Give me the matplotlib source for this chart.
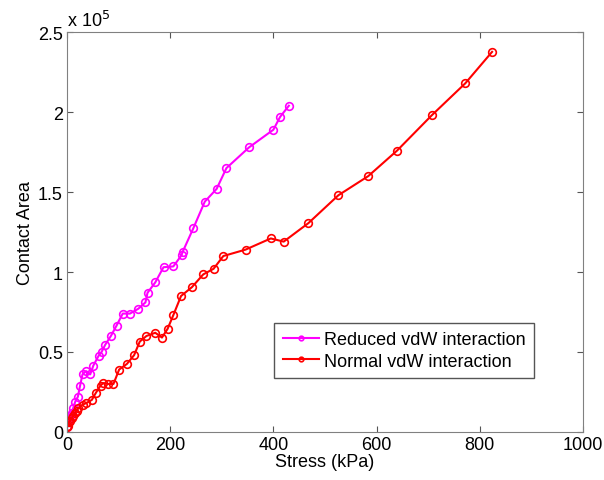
import numpy as np
import matplotlib.pyplot as plt
from matplotlib.ticker import FuncFormatter

plt.rcParams['font.family'] = ['Liberation Sans', 'DejaVu Sans']

# reduced vdW interaction (stress in kPa, contact area)
reduced_stress = [0, 2, 4, 6, 9, 12, 16, 21, 25, 30, 37, 45, 51, 61, 67, 74, 85, 96,
                  108, 122, 138, 152, 156, 171, 187, 206, 222, 224, 245, 267, 290,
                  309, 353, 400, 413, 430]
reduced_area = [0.03, 0.06, 0.08, 0.10, 0.12, 0.15, 0.19, 0.22, 0.285, 0.36, 0.38, 0.36,
                0.415, 0.475, 0.50, 0.545, 0.60, 0.665, 0.74, 0.74, 0.77, 0.81, 0.87,
                0.935, 1.03, 1.035, 1.105, 1.125, 1.275, 1.44, 1.52, 1.65, 1.78, 1.89,
                1.97, 2.04]
reduced_area = np.array(reduced_area) * 1e5

# normal vdW interaction
normal_stress = [0, 1, 3, 6, 9, 12, 15, 19, 22, 30, 37, 48, 56, 65, 70, 80, 90, 101,
                 116, 130, 141, 154, 171, 184, 195, 206, 221, 242, 264, 284, 303, 346,
                 395, 420, 468, 526, 584, 640, 707, 772, 824]
normal_area = [0.03, 0.04, 0.06, 0.07, 0.09, 0.10, 0.12, 0.13, 0.15, 0.17, 0.18, 0.20,
               0.245, 0.29, 0.305, 0.30, 0.30, 0.39, 0.425, 0.48, 0.565, 0.60, 0.62,
               0.59, 0.645, 0.73, 0.85, 0.905, 0.985, 1.02, 1.10, 1.14, 1.21, 1.19,
               1.306, 1.48, 1.60, 1.76, 1.98, 2.18, 2.377]
normal_area = np.array(normal_area) * 1e5

fig = plt.figure(figsize=(6.04, 4.81), dpi=100)
ax = fig.add_axes([0.111, 0.1, 0.854, 0.831])

ax.plot(reduced_stress, reduced_area, color='#ff00ff', marker='o', markersize=5.5,
        markerfacecolor='none', markeredgewidth=1.2, linewidth=1.5,
        label='Reduced vdW interaction')
ax.plot(normal_stress, normal_area, color='#ff0000', marker='o', markersize=5.5,
        markerfacecolor='none', markeredgewidth=1.2, linewidth=1.5,
        label='Normal vdW interaction')

ax.set_xlim(0, 1000)
ax.set_ylim(0, 2.5e5)
ax.set_xticks([0, 200, 400, 600, 800, 1000])
ax.set_yticks([0, 0.5e5, 1e5, 1.5e5, 2e5, 2.5e5])
ax.yaxis.set_major_formatter(FuncFormatter(lambda v, p: '%g' % (v / 1e5)))
ax.set_xlabel('Stress (kPa)', fontsize=13, labelpad=0)
ax.set_ylabel('Contact Area', fontsize=13, labelpad=3)
ax.tick_params(direction='in', top=True, right=True, labelsize=13, color='#555555',
               length=4, pad=3)
for s in ax.spines.values():
    s.set_color('#808080')
ax.text(0.0, 1.005, r'x 10$^5$', transform=ax.transAxes, fontsize=13,
        ha='left', va='bottom')

leg = ax.legend(loc='lower right', bbox_to_anchor=(0.905, 0.135), fontsize=13,
                fancybox=False, framealpha=1, edgecolor='#555555', markerscale=0.6,
                handlelength=2.0, borderpad=0.45, labelspacing=0.25, handletextpad=0.3,
                borderaxespad=0)
leg.get_frame().set_linewidth(1.0)

fig.savefig('out.png', dpi=100)
